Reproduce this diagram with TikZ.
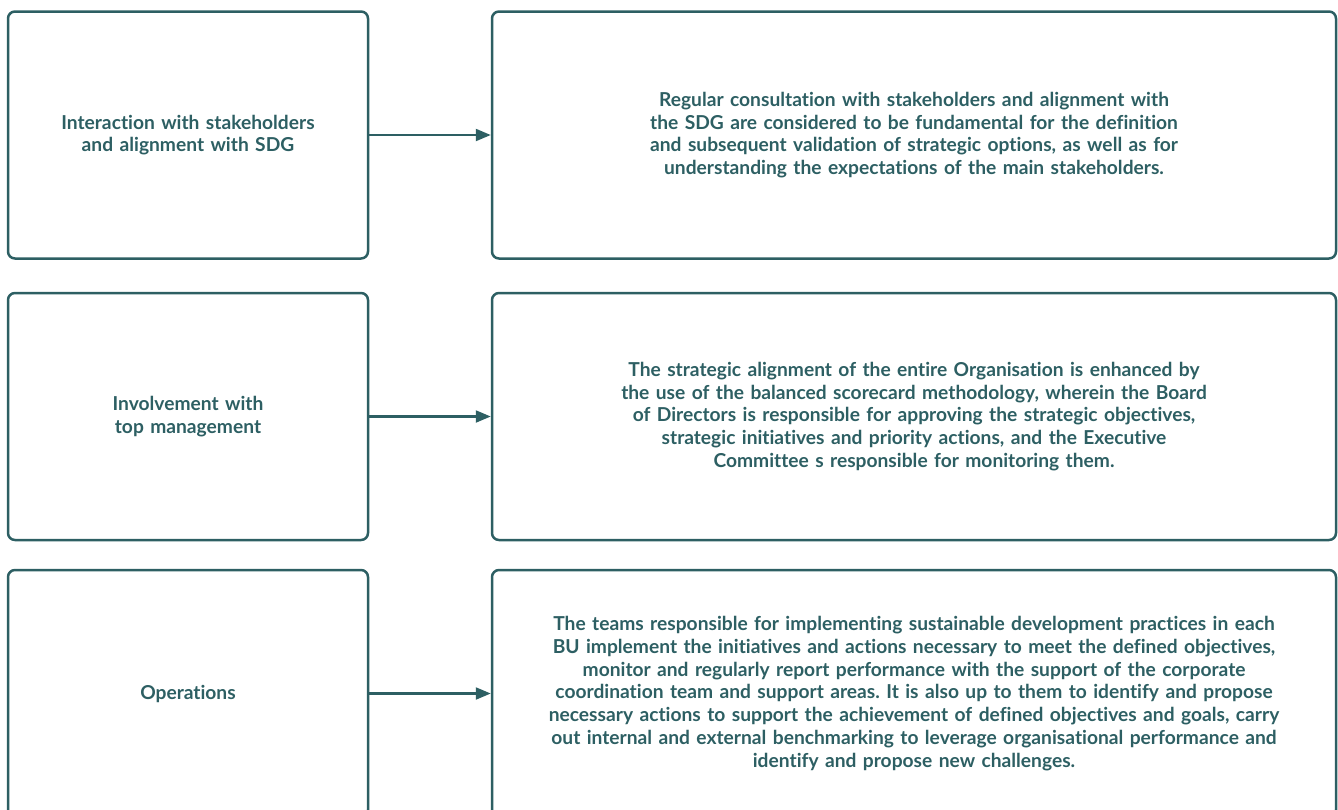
\documentclass[tikz,border=0pt]{standalone}
\usepackage{fontspec}
\setmainfont{Lato}[RawFeature=-liga]
\usepackage{tikz}
\usetikzlibrary{arrows.meta}
\definecolor{teal}{HTML}{2D5F63}
\frenchspacing

\begin{document}
\begin{tikzpicture}
[x = 1pt, y = -1pt]
\tikzset{
	topic node/.style = {draw = teal, line width = 2.5pt, rounded corners = 7pt, minimum width = 360pt, minimum height = 247pt, inner sep = 0pt, text width = 350pt, align = center, text = teal, font = \bfseries\fontsize{19.2}{22.7}\selectfont},
	detail node/.style = {topic node, minimum width = 844pt, text width = 830pt},
	link/.style = {draw = teal, line width = 2.2pt, -{Triangle[length = 15pt, width = 12pt]}},
}
\useasboundingbox (0,0) rectangle (1338,809);

\node(l1)[topic node] at (188,135) {Interaction with stakeholders\\and alignment with SDG};
\node(r1)[detail node] at (914,135) {Regular consultation with stakeholders and alignment with\\the SDG are considered to be fundamental for the definition\\and subsequent validation of strategic options, as well as for\\understanding the expectations of the main stakeholders.};

\node(l2)[topic node] at (188,416.5) {Involvement with\\top management};
\node(r2)[detail node] at (914,416.5) {The strategic alignment of the entire Organisation is enhanced by\\the use of the balanced scorecard methodology, wherein the Board\\of Directors is responsible for approving the strategic objectives,\\strategic initiatives and priority actions, and the Executive\\Committee s responsible for monitoring them.};

\node(l3)[topic node] at (188,693.5) {Operations};
\node(r3)[detail node] at (914,693.5) {The teams responsible for implementing sustainable development practices in each\\BU implement the initiatives and actions necessary to meet the defined objectives,\\monitor and regularly report performance with the support of the corporate\\coordination team and support areas. It is also up to them to identify and propose\\necessary actions to support the achievement of defined objectives and goals, carry\\out internal and external benchmarking to leverage organisational performance and\\identify and propose new challenges.};

\draw [link] (l1) -- (r1);
\draw [link] (l2) -- (r2);
\draw [link] (l3) -- (r3);

\end{tikzpicture}
\end{document}
